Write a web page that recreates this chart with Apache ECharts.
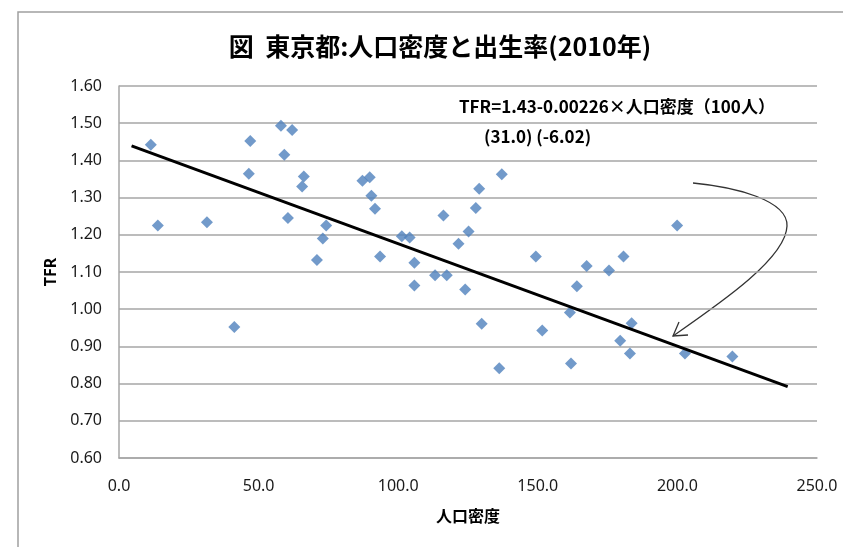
<!DOCTYPE html>
<html><head><meta charset="utf-8">
<script src="https://cdn.jsdelivr.net/npm/echarts@6/dist/echarts.min.js"></script>
<style>html,body{margin:0;padding:0;background:#fff}#c{width:843px;height:547px}</style>
</head><body><div id="c"></div>
<script>
// 人口密度 (100人/km2)
const density = [11.4, 13.9, 31.5, 41.3, 47.0, 46.5, 58.0, 62.0, 59.2, 60.5,
  66.2, 65.6, 70.9, 73.0, 74.2, 87.2, 89.8, 90.4, 91.7, 93.5,
  101.3, 104.1, 105.8, 105.8, 113.2, 117.4, 116.2, 121.6, 124.0, 125.2,
  127.8, 129.0, 129.9, 136.2, 137.1, 149.3, 151.6, 161.5, 161.9, 164.0,
  167.5, 175.5, 179.5, 180.7, 183.0, 183.6, 199.9, 202.7, 219.7];
// 合計特殊出生率
const tfr = [1.442, 1.225, 1.234, 0.952, 1.452, 1.364, 1.493, 1.482, 1.415, 1.245,
  1.357, 1.330, 1.132, 1.190, 1.225, 1.345, 1.355, 1.305, 1.270, 1.142,
  1.196, 1.193, 1.125, 1.064, 1.091, 1.091, 1.252, 1.176, 1.053, 1.209,
  1.272, 1.324, 0.961, 0.841, 1.363, 1.142, 0.943, 0.991, 0.854, 1.062,
  1.116, 1.104, 0.915, 1.142, 0.881, 0.962, 1.225, 0.881, 0.873];
// 回帰直線の端点
const fitX = [4.5, 239.5];
const fitY = [1.439, 0.792];
// 目盛
const xTicks = [0, 50, 100, 150, 200, 250];
const yTicks = [0.6, 0.7, 0.8, 0.9, 1.0, 1.1, 1.2, 1.3, 1.4, 1.5, 1.6];

const titleText = '図  東京都:人口密度と出生率(2010年)';
const eqText = 'TFR=1.43-0.00226×人口密度（100人）';
const tText = '(31.0) (-6.02)';

const chart = echarts.init(document.getElementById('c'), null, {renderer: 'canvas'});
const pts = density.map((d, i) => [d, tfr[i]]);
const fit = fitX.map((x, i) => [x, fitY[i]]);
const gridCol = '#a6a6a6';
const lblFont = 'Noto Sans';

chart.setOption({
  animation: false,
  backgroundColor: '#fff',
  grid: {left: 119, right: 26, top: 86, bottom: 89, containLabel: false},
  xAxis: {
    type: 'value', min: xTicks[0], max: xTicks[xTicks.length - 1], interval: xTicks[1] - xTicks[0],
    axisLine: {show: true, lineStyle: {color: gridCol, width: 1.5}},
    axisTick: {show: false},
    splitLine: {show: false},
    axisLabel: {formatter: v => v.toFixed(1), fontFamily: lblFont, fontSize: 16, color: '#1a1a1a', margin: 20},
    name: '人口密度', nameLocation: 'middle', nameGap: 50,
    nameTextStyle: {fontFamily: 'Noto Sans CJK JP', fontWeight: 'bold', fontSize: 16, color: '#000'}
  },
  yAxis: {
    type: 'value', min: yTicks[0], max: yTicks[yTicks.length - 1], interval: 0.1,
    axisLine: {show: true, lineStyle: {color: gridCol, width: 1.5}},
    axisTick: {show: false},
    splitLine: {show: true, lineStyle: {color: gridCol, width: 1.5}},
    axisLabel: {formatter: v => v.toFixed(2), fontFamily: lblFont, fontSize: 16, color: '#1a1a1a', margin: 17},
    name: 'TFR', nameLocation: 'middle', nameGap: 56, nameRotate: 90,
    nameTextStyle: {fontFamily: 'Noto Sans', fontWeight: 'bold', fontSize: 16, color: '#000'}
  },
  series: [
    {type: 'scatter', data: pts, symbol: 'diamond', symbolSize: 12,
     itemStyle: {color: '#4f81bd'}, z: 2},
    {type: 'line', data: fit, symbol: 'none', lineStyle: {color: '#000', width: 3}, z: 3}
  ],
  graphic: [
    {type: 'rect', silent: true, shape: {x: 18, y: 12, width: 900, height: 600},
     style: {fill: 'none', stroke: '#a0a0a0', lineWidth: 1.5}},
    {type: 'text', silent: true, x: 440, y: 46,
     style: {text: titleText, font: 'bold 25px "Noto Sans CJK JP"', fill: '#000', textAlign: 'center', textVerticalAlign: 'middle'}},
    {type: 'text', silent: true, x: 459, y: 107,
     style: {text: eqText, font: 'bold 17px "Noto Sans CJK JP"', fill: '#000', textAlign: 'left', textVerticalAlign: 'middle'}},
    {type: 'text', silent: true, x: 484, y: 137,
     style: {text: tText, font: 'bold 17px "Noto Sans CJK JP"', fill: '#000', textAlign: 'left', textVerticalAlign: 'middle'}},
    {type: 'bezierCurve', silent: true,
     shape: {x1: 693, y1: 183, x2: 787, y2: 226, cpx1: 735, cpy1: 187, cpx2: 788, cpy2: 200},
     style: {fill: 'none', stroke: '#333', lineWidth: 1.3}},
    {type: 'bezierCurve', silent: true,
     shape: {x1: 787, y1: 226, x2: 673, y2: 336, cpx1: 786, cpy1: 258, cpx2: 722, cpy2: 302},
     style: {fill: 'none', stroke: '#333', lineWidth: 1.3}},
    {type: 'polyline', silent: true,
     shape: {points: [[679, 322], [673, 336], [688, 335]]},
     style: {fill: 'none', stroke: '#333', lineWidth: 1.3}}
  ]
});
</script></body></html>
